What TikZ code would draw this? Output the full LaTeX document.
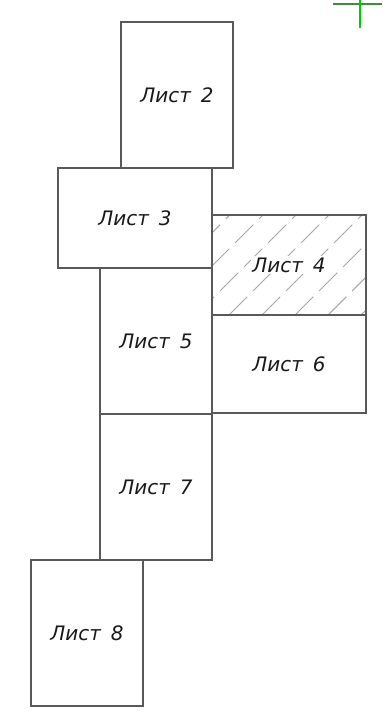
\documentclass[tikz,border=0pt]{standalone}
\usepackage{fontspec}
\setmainfont{DejaVu Sans}
\usetikzlibrary{positioning}
\tikzset{
  sheet/.style={draw=gray!70!black, line width=1pt, inner sep=0pt, outer sep=0pt,
    font=\fontsize{17}{20}\selectfont\itshape, text=black!90},
  sheet tall/.style={sheet, minimum width=3.36cm, minimum height=4.38cm},
  sheet wide/.style={sheet, minimum width=4.62cm, minimum height=3cm},
  hatch line/.style={gray!70, line width=0.8pt, dash pattern=on 22pt off 7pt},
  hatched/.style={path picture={
    \foreach \k in {-5,...,5}
      \draw[hatch line] ([xshift=14.5pt+\k*28.2pt]path picture bounding box.south west) -- ++(4cm,4cm);
  }},
}

\begin{document}
\begin{tikzpicture}[x=0.03cm, y=-0.03cm]
    \useasboundingbox (0,0) rectangle (382,719);

    % Sheets
    \node[sheet tall, anchor=north west] (s2) at (121,22) {Лист\hspace{0.5em}2};
    \node[sheet wide, anchor=north west] (s3) at (58,168) {Лист\hspace{0.5em}3};
    \node[sheet wide, hatched, anchor=north west] (s4) at (212,215)
      {\setlength{\fboxsep}{1pt}\colorbox{white}{Лист\hspace{0.5em}4}};
    \node[sheet tall, anchor=north east] (s5) at (s3.south east) {Лист\hspace{0.5em}5};
    \node[sheet wide, minimum height=2.94cm, below=0pt of s4] (s6) {Лист\hspace{0.5em}6};
    \node[sheet tall, below=0pt of s5] (s7) {Лист\hspace{0.5em}7};
    \node[sheet tall, anchor=north west] (s8) at (31,560) {Лист\hspace{0.5em}8};

    % Cursor cross
    \draw[green!40!black!75, line width=1pt] (333,4) -- (382,4);
    \draw[green!80!black, line width=1.3pt] (360,0) -- (360,28);
\end{tikzpicture}
\end{document}
